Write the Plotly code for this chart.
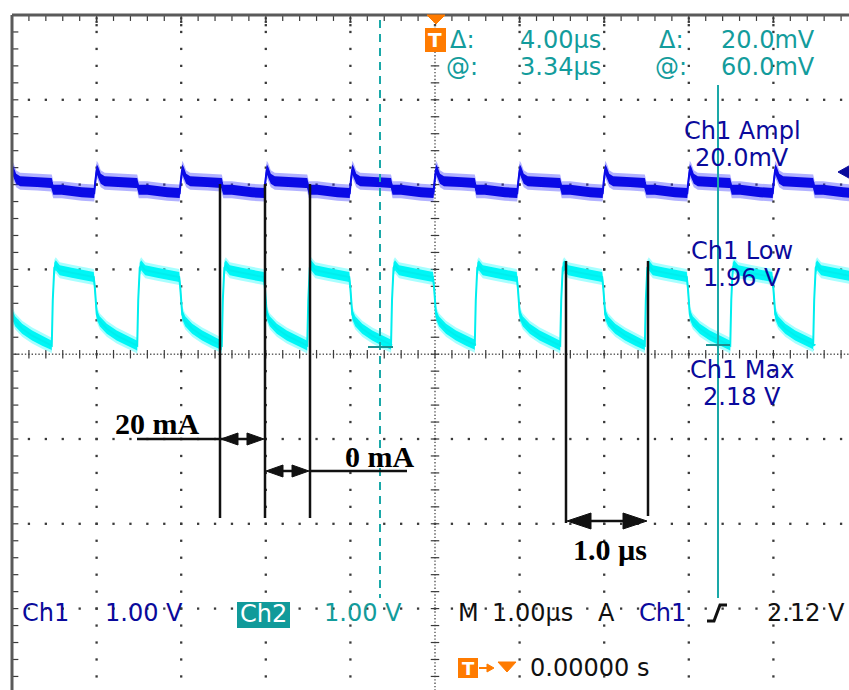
import numpy as np
import plotly.graph_objects as go

# ---------------- data read from the screen capture ----------------
# horizontal: time in µs (1.00 µs/div), vertical: screen divisions (centre = 0)
EDGE_US = [-0.53, 0.47, 1.48, 2.48, 3.49, 4.48, 5.47, 6.48, 7.48, 8.49, 9.47]  # Ch2 rising edges
# one Ch2 period, relative to its rising edge
CH2_T = [0.000, 0.012, 0.030, 0.047, 0.095, 0.236, 0.496, 0.508, 0.526, 0.532, 0.567, 0.650, 0.768, 0.887, 0.993]
CH2_V = [0.10, 0.64, 1.02, 1.05, 0.99, 0.96, 0.91, 0.80, 0.52, 0.47, 0.39, 0.30, 0.22, 0.16, 0.11]
# one Ch1 period, relative to the same edge
CH1_T = [0.000, 0.018, 0.118, 0.355, 0.502, 0.514, 0.532, 0.550, 0.579, 0.626, 0.827, 0.993]
CH1_V = [2.02, 1.94, 1.94, 1.91, 1.90, 2.03, 2.18, 2.15, 2.07, 2.04, 2.03, 2.02]

CURSOR_TEXT = [["Δ:", "4.00µs", "Δ:", "20.0mV"], ["@:", "3.34µs", "@:", "60.0mV"]]
MEAS_TEXT = [("Ch1 Ampl", "20.0mV"), ("Ch1 Low", "1.96 V"), ("Ch1 Max", "2.18 V")]

# ---------------- geometry ----------------
W, H = 849, 690
L, T = 12, 15
PW, PH = W - L, H - T
DX, DY = 84.6, 84.8          # pixels per division
XR = [0, PW / DX]
YR = [4 - PH / DY, 4]

def ppx(px):
    return (px - L) / PW

def ppy(py):
    return 1 - (py - T) / PH

TEAL = "#139c9c"
BLUE_T = "#0a0a9c"
BLACK = "#111111"
ORANGE = "#ff7b00"
GRID = "#3a3a3a"
SCOPE_FONT = "DejaVu Sans"
FS = 24

fig = go.Figure()

# ---------------- graticule ----------------
minor = np.round(np.arange(0, 10.001, 0.2), 3)
minor_y = np.round(np.arange(-4, 4.001, 0.2), 3)
gx, gy = [], []
for xm in [1, 2, 3, 4, 6, 7, 8, 9]:
    gx += [xm] * len(minor_y)
    gy += list(minor_y)
for ym in [-3, -2, -1, 1, 2, 3]:
    gx += list(minor)
    gy += [ym] * len(minor)
# top border major "dotted" ticks
for xm in range(1, 10):
    for d in (0.04, 0.08, 0.12):
        gx.append(xm)
        gy.append(4 - d)
fig.add_trace(go.Scatter(x=gx, y=gy, mode="markers", hoverinfo="skip",
                         marker=dict(size=2.3, color=GRID, symbol="square")))

# centre cross: fine dots
fine = np.round(np.arange(0, 10.001, 0.04), 3)
fine_y = np.round(np.arange(-4, 4.001, 0.04), 3)
fig.add_trace(go.Scatter(x=list(fine) + [5] * len(fine_y), y=[0] * len(fine) + list(fine_y),
                         mode="markers", hoverinfo="skip",
                         marker=dict(size=1.4, color="#555555", symbol="square")))
# ticks on centre cross and borders
tx, ty = [], []
for xv in minor:
    tx += [xv, xv, None]
    ty += [-0.05, 0.05, None]
    tx += [xv, xv, None]
    ty += [4, 3.93, None]
for yv in minor_y:
    tx += [4.95, 5.05, None]
    ty += [yv, yv, None]
    tx += [0, 0.075, None]
    ty += [yv, yv, None]
fig.add_trace(go.Scatter(x=tx, y=ty, mode="lines", hoverinfo="skip",
                         line=dict(color=GRID, width=1.2)))


# ---------------- traces ----------------
def build(tt, vv):
    xs, ys = [], []
    for e in EDGE_US:
        xs += [e + t for t in tt]
        ys += list(vv)
    return np.array(xs), np.array(ys)


def band(xs, ys, hw, color):
    return go.Scatter(x=np.concatenate([xs, xs[::-1]]),
                      y=np.concatenate([ys + hw, (ys - hw)[::-1]]),
                      fill="toself", fillcolor=color, mode="lines",
                      line=dict(width=0, color=color), hoverinfo="skip")


x2, y2 = build(CH2_T, CH2_V)
fig.add_trace(band(x2, y2, 8 / DY, "rgba(60,255,255,0.45)"))
fig.add_trace(band(x2, y2, 5 / DY, "#00f6f6"))
fig.add_trace(go.Scatter(x=x2, y=y2, mode="lines", line=dict(color="#00eeee", width=2), hoverinfo="skip"))

x1, y1 = build(CH1_T, CH1_V)
fig.add_trace(band(x1, y1, 8.5 / DY, "rgba(50,50,255,0.38)"))
fig.add_trace(band(x1, y1, 5 / DY, "#0a0ae6"))
fig.add_trace(go.Scatter(x=x1, y=y1, mode="lines", line=dict(color="#0a0ae6", width=2), hoverinfo="skip"))

shapes = []


def seg(x0, y0, x1_, y1_, color, width, dash=None):
    d = dict(type="line", xref="paper", yref="paper", x0=ppx(x0), y0=ppy(y0),
             x1=ppx(x1_), y1=ppy(y1_), line=dict(color=color, width=width))
    if dash:
        d["line"]["dash"] = dash
    shapes.append(d)


def poly(pts, color):
    path = "M " + " L ".join(f"{ppx(a):.5f},{ppy(b):.5f}" for a, b in pts) + " Z"
    shapes.append(dict(type="path", xref="paper", yref="paper", path=path,
                       fillcolor=color, line=dict(color=color, width=1)))


def rect(x0, y0, x1_, y1_, color):
    shapes.append(dict(type="rect", xref="paper", yref="paper", x0=ppx(x0), y0=ppy(y0),
                       x1=ppx(x1_), y1=ppy(y1_), fillcolor=color, line=dict(width=0)))


# borders
seg(L, T, L, H + 5, "#5a5a5a", 3)
seg(L, T, W + 5, T, "#5a5a5a", 3)

# cursors
seg(380, 20, 380, 598, "#1aa8a8", 2, "8px,6px")
seg(718, 85, 718, 598, "#1aa8a8", 2)
seg(368, 347, 393, 347, "#1a9090", 2)
seg(706, 345, 730, 345, "#1a9090", 2)

# annotation lines (black)
for xv in (220, 265, 310):
    seg(xv, 184, xv, 518, BLACK, 2.5)
seg(566, 261, 566, 523, BLACK, 2.5)
seg(648, 261, 648, 516, BLACK, 2.5)
seg(137, 439, 237, 439, BLACK, 2.5)
seg(236, 439, 250, 439, BLACK, 2.5)
poly([(221, 439), (238, 433), (238, 445)], BLACK)
poly([(264, 439), (247, 433), (247, 445)], BLACK)
seg(280, 471, 296, 471, BLACK, 2.5)
poly([(266, 471), (283, 465), (283, 477)], BLACK)
poly([(309, 471), (292, 465), (292, 477)], BLACK)
seg(310, 471, 407, 471, BLACK, 2.5)
seg(585, 521, 630, 521, BLACK, 2.5)
poly([(567, 521), (591, 513), (591, 529)], BLACK)
poly([(647, 521), (623, 513), (623, 529)], BLACK)

# trigger markers
poly([(427, 15), (445, 15), (436, 24)], ORANGE)
rect(425, 28, 446, 52, ORANGE)
rect(458, 658, 478, 678, ORANGE)
seg(479, 668, 489, 668, ORANGE, 2)
poly([(494, 668), (487, 664), (487, 672)], ORANGE)
poly([(498, 662), (516, 662), (507, 672)], ORANGE)
# Ch1 level marker on the right edge
poly([(838, 172), (856, 162), (856, 182)], "#0a0a9c")
# Ch2 label box
rect(237, 602, 290, 628, "#119a9a")
# trigger slope symbol
shapes.append(dict(type="path", xref="paper", yref="paper",
                   path=f"M {ppx(707)},{ppy(621)} L {ppx(714)},{ppy(621)} L {ppx(720)},{ppy(605)} L {ppx(727)},{ppy(605)}",
                   line=dict(color=BLACK, width=3)))

ann = []


def txt(s, cx, cy, color, size=FS, family=SCOPE_FONT, bold=False):
    ann.append(dict(text=f"<b>{s}</b>" if bold else s, x=ppx(cx), y=ppy(cy),
                    xref="paper", yref="paper", xanchor="center", yanchor="middle",
                    showarrow=False, font=dict(family=family, size=size, color=color)))


cols = [462, 560, 671, 768]
for r, cy in enumerate([40, 67]):
    for c, cx in enumerate(cols):
        txt(CURSOR_TEXT[r][c], cx, cy, TEAL)

for i, (a, b) in enumerate(MEAS_TEXT):
    cy = [131, 251, 370][i]
    txt(a, 742, cy, BLUE_T)
    txt(b, 742, cy + 27, BLUE_T)

txt("Ch1", 45, 613, BLUE_T)
txt("1.00 V", 144, 613, BLUE_T)
txt("Ch2", 263, 614, "white")
txt("1.00 V", 363, 613, TEAL)
txt("M", 468, 613, BLACK)
txt("1.00µs", 532, 613, BLACK)
txt("A", 606, 613, BLACK)
txt("Ch1", 662, 613, BLUE_T)
txt("2.12 V", 806, 613, BLACK)
txt("0.00000 s", 589, 668, BLACK)
txt("T", 435, 40, "white", 20, bold=True)
txt("T", 468, 668, "white", 18, bold=True)

txt("20 mA", 157, 423, "black", 30, "Liberation Serif", True)
txt("0 mA", 379, 456, "black", 30, "Liberation Serif", True)
txt("1.0 µs", 610, 549, "black", 30, "Liberation Serif", True)

fig.update_layout(
    width=W, height=H, autosize=False,
    margin=dict(l=L, r=0, t=T, b=0, pad=0),
    paper_bgcolor="white", plot_bgcolor="white",
    showlegend=False,
    xaxis=dict(range=XR, visible=False, fixedrange=True),
    yaxis=dict(range=YR, visible=False, fixedrange=True),
    shapes=shapes, annotations=ann,
)

fig.write_html("out.html", config={"displayModeBar": False},
               post_script="document.body.style.margin='0';document.body.style.overflow='hidden';")
